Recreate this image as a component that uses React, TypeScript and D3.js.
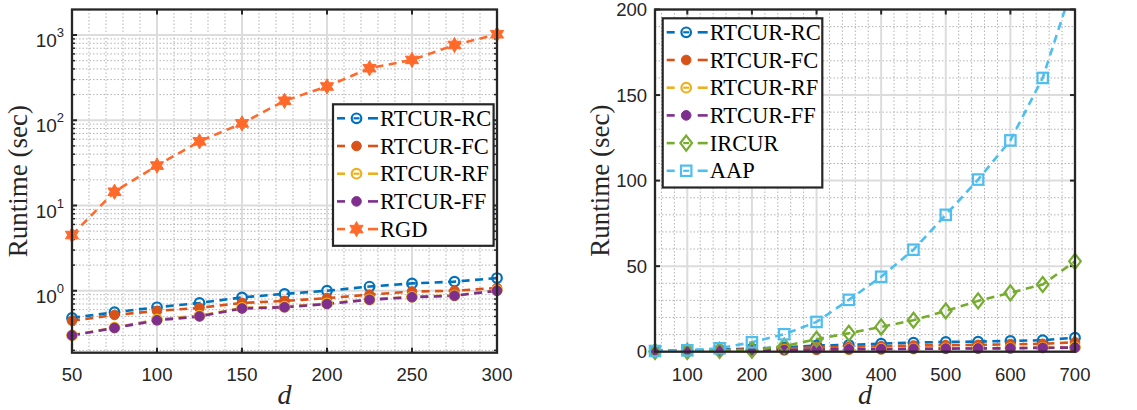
import React from "react";
import * as d3 from "d3";

// ---------- data ----------
const dLeft = [50, 75, 100, 125, 150, 175, 200, 225, 250, 275, 300];
const rcLeft = [0.48, 0.56, 0.64, 0.72, 0.835, 0.92, 1.0, 1.12, 1.22, 1.28, 1.41];
const fcLeft = [0.445, 0.52, 0.58, 0.63, 0.72, 0.76, 0.82, 0.9, 0.98, 1.0, 1.08];
const rfLeft = [0.3, 0.37, 0.46, 0.51, 0.63, 0.65, 0.71, 0.79, 0.85, 0.88, 1.02];
const ffLeft = [0.3, 0.366, 0.45, 0.5, 0.62, 0.64, 0.7, 0.785, 0.84, 0.875, 1.0];
const rgdLeft = [4.5, 14.5, 29.4, 56.5, 91.8, 169, 249, 408, 510, 763, 1020];

const dRight = [50, 100, 150, 200, 250, 300, 350, 400, 450, 500, 550, 600, 650, 700];
const rcRight = [0.5, 0.8, 1.2, 1.8, 2.5, 3.7, 3.9, 4.7, 5.3, 5.7, 5.9, 6.3, 6.7, 8.2];
const fcRight = [0.4, 0.6, 0.9, 1.3, 1.8, 2.6, 2.8, 3.2, 3.6, 3.8, 4.0, 4.3, 4.6, 5.5];
const rfRight = [0.3, 0.4, 0.6, 0.8, 1.0, 1.3, 1.4, 1.6, 1.8, 1.9, 2.0, 2.1, 2.4, 2.6];
const ffRight = [0.3, 0.4, 0.6, 0.8, 1.0, 1.3, 1.4, 1.5, 1.7, 1.8, 1.9, 2.0, 2.3, 2.4];
const ircurRight = [0.1, 0.2, 0.8, 0.9, 3.3, 7.3, 10.8, 14.5, 18.4, 23.8, 29.7, 34.4, 39.3, 52.8];
const aapRight = [0.4, 0.8, 2.0, 5.5, 10.2, 17.4, 30.3, 43.8, 59.6, 80, 100.6, 123.5, 160, 218];

const xTicksLeft = [50, 100, 150, 200, 250, 300];
const yTicksLeft = [0, 1, 2, 3]; // exponents
const xTicksRight = [100, 200, 300, 400, 500, 600, 700];
const yTicksRight = [0, 50, 100, 150, 200];

type Marker = "circle" | "dot" | "hexagram" | "diamond" | "square";
interface Series { name: string; color: string; marker: Marker; values: number[] }

const C_RC = "#0072BD", C_FC = "#D95319", C_RF = "#EDB120", C_FF = "#7E2F8E",
  C_RGD = "#FF6A2B", C_IR = "#77AC30", C_AAP = "#4DBEEE";

const leftSeries: Series[] = [
  { name: "RTCUR-RC", color: C_RC, marker: "circle", values: rcLeft },
  { name: "RTCUR-FC", color: C_FC, marker: "dot", values: fcLeft },
  { name: "RTCUR-RF", color: C_RF, marker: "circle", values: rfLeft },
  { name: "RTCUR-FF", color: C_FF, marker: "dot", values: ffLeft },
  { name: "RGD", color: C_RGD, marker: "hexagram", values: rgdLeft },
];
const rightSeries: Series[] = [
  { name: "RTCUR-RC", color: C_RC, marker: "circle", values: rcRight },
  { name: "RTCUR-FC", color: C_FC, marker: "dot", values: fcRight },
  { name: "RTCUR-RF", color: C_RF, marker: "circle", values: rfRight },
  { name: "RTCUR-FF", color: C_FF, marker: "dot", values: ffRight },
  { name: "IRCUR", color: C_IR, marker: "diamond", values: ircurRight },
  { name: "AAP", color: C_AAP, marker: "square", values: aapRight },
];

const AX = "#262626";
const GRID = "#dcdcdc";
const MINOR = "#b3b3b3";
const SANS = "'Liberation Sans', Arial, Helvetica, sans-serif";
const SERIF = "'Liberation Serif', 'Times New Roman', serif";

function hexagramPath(r: number, ri: number) {
  const pts: string[] = [];
  for (let i = 0; i < 12; i++) {
    const a = (Math.PI / 6) * i - Math.PI / 2;
    const rr = i % 2 === 0 ? r : ri;
    pts.push(`${(rr * Math.cos(a)).toFixed(2)},${(rr * Math.sin(a)).toFixed(2)}`);
  }
  return "M" + pts.join("L") + "Z";
}

function MarkerShape({ m, x, y, color }: { m: Marker; x: number; y: number; color: string }) {
  switch (m) {
    case "circle":
      return <circle cx={x} cy={y} r={4.8} fill="none" stroke={color} strokeWidth={2.2} />;
    case "dot":
      return <circle cx={x} cy={y} r={4.8} fill={color} stroke={color} strokeWidth={1} />;
    case "hexagram":
      return <path d={hexagramPath(7.6, 4.3)} transform={`translate(${x},${y})`} fill={color} stroke={color} strokeWidth={1} />;
    case "diamond":
      return <path d="M0,-7.5L5.8,0L0,7.5L-5.8,0Z" transform={`translate(${x},${y})`} fill="none" stroke={color} strokeWidth={2.2} />;
    case "square":
      return <rect x={x - 5.2} y={y - 5.2} width={10.4} height={10.4} fill="none" stroke={color} strokeWidth={2.2} />;
  }
}

interface PanelProps {
  id: string;
  series: Series[];
  xs: number[];
  x: d3.ScaleLinear<number, number>;
  y: any;
  log: boolean;
  xTicks: number[];
  xMinor: number[];
  yMajor: number[];
  yMinor: number[];
  yLabelX: number;
  legend: { x: number; y: number; w: number };
  yTickLabel: (v: number, px: number) => React.ReactNode;
}

function Panel(p: PanelProps) {
  const [x0, x1] = p.x.range();
  const [yb, yt] = p.y.range();
  const line = d3.line<number>()
    .x((_, i) => p.x(p.xs[i]))
    .y((v) => p.y(v));
  const rowH = 27.7;
  const legH = p.series.length * rowH + 3;
  const inRange = (v: number) => {
    const dom = p.y.domain();
    return v >= dom[0] && v <= dom[1];
  };
  return (
    <g>
      <defs>
        <clipPath id={p.id}>
          <rect x={x0} y={yt} width={x1 - x0} height={yb - yt} />
        </clipPath>
      </defs>
      <rect x={x0} y={yt} width={x1 - x0} height={yb - yt} fill="#fff" />
      {/* minor grid */}
      {p.xMinor.map((v) => (
        <line key={"xm" + v} x1={p.x(v)} x2={p.x(v)} y1={yt} y2={yb} stroke={MINOR} strokeWidth={1} strokeDasharray="1.5,2" />
      ))}
      {p.yMinor.map((v) => (
        <line key={"ym" + v} x1={x0} x2={x1} y1={p.y(v)} y2={p.y(v)} stroke={MINOR} strokeWidth={1} strokeDasharray="1.5,2" />
      ))}
      {/* major grid */}
      {p.xTicks.map((v) => (
        <line key={"xg" + v} x1={p.x(v)} x2={p.x(v)} y1={yt} y2={yb} stroke={GRID} strokeWidth={2} />
      ))}
      {p.yMajor.map((v) => (
        <line key={"yg" + v} x1={x0} x2={x1} y1={p.y(v)} y2={p.y(v)} stroke={GRID} strokeWidth={2} />
      ))}
      {/* ticks */}
      {p.xTicks.map((v) => (
        <g key={"xt" + v}>
          <line x1={p.x(v)} x2={p.x(v)} y1={yb} y2={yb - 5} stroke={AX} strokeWidth={2} />
          <line x1={p.x(v)} x2={p.x(v)} y1={yt} y2={yt + 5} stroke={AX} strokeWidth={2} />
          <text x={p.x(v)} y={380.5} textAnchor="middle" fontFamily={SANS} fontSize={18.5} fill={AX}>{v}</text>
        </g>
      ))}
      {p.yMajor.map((v) => (
        <g key={"yt" + v}>
          <line x1={x0} x2={x0 + 5} y1={p.y(v)} y2={p.y(v)} stroke={AX} strokeWidth={2} />
          <line x1={x1} x2={x1 - 5} y1={p.y(v)} y2={p.y(v)} stroke={AX} strokeWidth={2} />
          {p.yTickLabel(v, p.y(v))}
        </g>
      ))}
      {p.log && p.yMinor.map((v) => (
        <g key={"ymt" + v}>
          <line x1={x0} x2={x0 + 3} y1={p.y(v)} y2={p.y(v)} stroke={AX} strokeWidth={1.5} />
          <line x1={x1} x2={x1 - 3} y1={p.y(v)} y2={p.y(v)} stroke={AX} strokeWidth={1.5} />
        </g>
      ))}
      {/* data */}
      <g clipPath={`url(#${p.id})`}>
        {p.series.map((s) => (
          <path key={s.name} d={line(s.values) || ""} fill="none" stroke={s.color} strokeWidth={2.6} strokeDasharray="8,5.5" />
        ))}
      </g>
      {p.series.map((s) => (
        <g key={s.name + "m"}>
          {s.values.map((v, i) => inRange(v) ? (
            <MarkerShape key={i} m={s.marker} x={p.x(p.xs[i])} y={p.y(v)} color={s.color} />
          ) : null)}
        </g>
      ))}
      {/* box */}
      <rect x={x0} y={yt} width={x1 - x0} height={yb - yt} fill="none" stroke={AX} strokeWidth={2.3} />
      {/* axis labels */}
      <text transform={`translate(${p.yLabelX},${(yt + yb) / 2}) rotate(-90)`} textAnchor="middle" fontFamily={SERIF} fontSize={27} fill={AX}>Runtime (sec)</text>
      <text x={(x0 + x1) / 2} y={404} textAnchor="middle" fontFamily={SERIF} fontStyle="italic" fontSize={28} fill={AX}>d</text>
      {/* legend */}
      <g>
        <rect x={p.legend.x} y={p.legend.y} width={p.legend.w} height={legH} fill="#fff" stroke={AX} strokeWidth={2.2} />
        {p.series.map((s, i) => {
          const cy = p.legend.y + 14 + i * rowH;
          const lx = p.legend.x;
          return (
            <g key={s.name + "l"}>
              <line x1={lx + 4} x2={lx + 12} y1={cy} y2={cy} stroke={s.color} strokeWidth={2.6} />
              <line x1={lx + 20.5} x2={lx + 26.5} y1={cy} y2={cy} stroke={s.color} strokeWidth={2.2} />
              <line x1={lx + 35} x2={lx + 45} y1={cy} y2={cy} stroke={s.color} strokeWidth={2.6} />
              <MarkerShape m={s.marker} x={lx + 23.5} y={cy} color={s.color} />
              <text x={lx + 47} y={cy + 7.5} fontFamily={SERIF} fontSize={22.5} fill="#000">{s.name}</text>
            </g>
          );
        })}
      </g>
    </g>
  );
}

export default function App() {
  // left panel (log scale)
  const xL = d3.scaleLinear().domain([50, 300]).range([72, 497]);
  const yL = d3.scaleLog().domain([0.1877, 1991]).range([352.7, 9.5]);
  const xMinorL = d3.range(60, 300, 10).filter((v) => v % 50 !== 0);
  const yMinorL: number[] = [];
  for (let e = -1; e <= 3; e++) {
    for (let k = 2; k <= 9; k++) {
      const v = k * Math.pow(10, e);
      if (v >= 0.1877 && v <= 1991) yMinorL.push(v);
    }
  }
  const yMajorL = yTicksLeft.map((e) => Math.pow(10, e));

  // right panel (linear)
  const xR = d3.scaleLinear().domain([50, 700]).range([655, 1075]);
  const yR = d3.scaleLinear().domain([0, 200]).range([351.7, 9.5]);
  const xMinorR = d3.range(60, 700, 20).filter((v) => v % 100 !== 0);
  const yMinorR = d3.range(10, 200, 10).filter((v) => v % 50 !== 0);

  return (
    <svg width={1137} height={410} style={{ position: "absolute", left: 0, top: 0, background: "#fff" }}>
      <Panel
        id="clipL"
        series={leftSeries}
        xs={dLeft}
        x={xL}
        y={yL}
        log={true}
        xTicks={xTicksLeft}
        xMinor={xMinorL}
        yMajor={yMajorL}
        yMinor={yMinorL}
        yLabelX={27}
        legend={{ x: 333, y: 104.3, w: 160.6 }}
        yTickLabel={(v, py) => (
          <text x={64} y={py + 12} textAnchor="end" fontFamily={SANS} fontSize={19} fill={AX}>
            10<tspan dy={-10} fontSize={13}>{Math.round(Math.log10(v))}</tspan>
          </text>
        )}
      />
      <Panel
        id="clipR"
        series={rightSeries}
        xs={dRight}
        x={xR}
        y={yR}
        log={false}
        xTicks={xTicksRight}
        xMinor={xMinorR}
        yMajor={yTicksRight}
        yMinor={yMinorR}
        yLabelX={609}
        legend={{ x: 662.7, y: 18.3, w: 159.6 }}
        yTickLabel={(v, py) => (
          <text x={647} y={py + 6.5} textAnchor="end" fontFamily={SANS} fontSize={18.5} fill={AX}>{v}</text>
        )}
      />
    </svg>
  );
}
